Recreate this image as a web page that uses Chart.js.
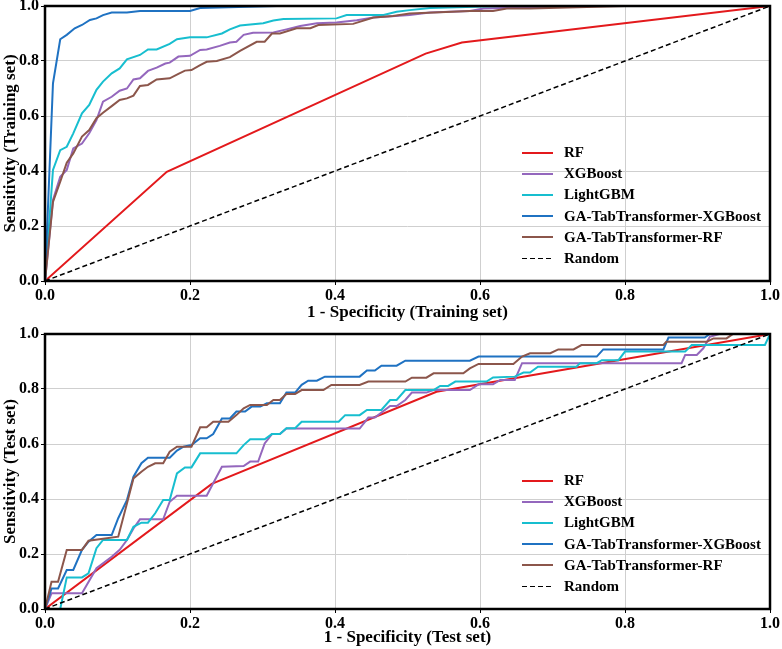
<!DOCTYPE html>
<html>
<head>
<meta charset="utf-8">
<script src="https://cdn.jsdelivr.net/npm/chart.js@4.4.0/dist/chart.umd.min.js"></script>
<style>
  body { margin: 0; background: #fff; }
  #wrap { position: relative; width: 782px; height: 649px; }
  canvas { position: absolute; left: 0; }
  .legend { position: absolute; font: bold 15px 'Liberation Serif', 'Times New Roman', serif; color: #000; }
  .legend .row { display: flex; align-items: center; height: 21.2px; white-space: nowrap; }
  .legend .sw { width: 31px; height: 2px; margin-right: 11px; }
</style>
</head>
<body>
<div id="wrap">
  <canvas id="trainRoc" width="782" height="324" style="top:0"></canvas>
  <canvas id="testRoc" width="782" height="325" style="top:324px"></canvas>
  <div id="trainLegend" class="legend" style="left:522px;top:142px"></div>
  <div id="testLegend" class="legend" style="left:522px;top:470px"></div>
</div>
<script>
var seriesNames = ["RF", "XGBoost", "LightGBM", "GA-TabTransformer-XGBoost", "GA-TabTransformer-RF", "Random"];
var seriesColors = ["#e3191c", "#9467bd", "#17becf", "#1f72c2", "#8c564b", "#000000"];
var tickLabels = ["0.0", "0.2", "0.4", "0.6", "0.8", "1.0"];

// training set
var trainFprRF = [0, 0.168, 0.525, 0.575, 1];
var trainTprRF = [0, 0.397, 0.827, 0.867, 1];

var trainFprXGB = [0, 0.011, 0.021, 0.030, 0.039, 0.051, 0.061, 0.071, 0.080, 0.092, 0.103, 0.113, 0.122, 0.131, 0.142, 0.154, 0.166, 0.172, 0.184, 0.200, 0.214, 0.223, 0.241, 0.255, 0.264, 0.274, 0.287, 0.315, 0.333, 0.352, 0.375, 0.402, 0.430, 0.453, 0.503, 0.531, 0.586, 0.605, 0.75, 1];
var trainTprXGB = [0, 0.295, 0.379, 0.404, 0.482, 0.500, 0.537, 0.585, 0.652, 0.670, 0.692, 0.700, 0.733, 0.737, 0.764, 0.776, 0.791, 0.794, 0.816, 0.819, 0.840, 0.842, 0.855, 0.867, 0.870, 0.895, 0.903, 0.904, 0.915, 0.927, 0.937, 0.940, 0.948, 0.958, 0.967, 0.976, 0.982, 0.991, 1.0, 1.0];

var trainFprLGBM = [0, 0.011, 0.021, 0.030, 0.039, 0.051, 0.061, 0.071, 0.080, 0.092, 0.103, 0.113, 0.131, 0.142, 0.154, 0.172, 0.182, 0.200, 0.223, 0.244, 0.255, 0.269, 0.301, 0.315, 0.329, 0.402, 0.416, 0.467, 0.485, 0.503, 0.531, 0.63, 1];
var trainTprLGBM = [0, 0.404, 0.476, 0.488, 0.537, 0.610, 0.640, 0.695, 0.725, 0.755, 0.773, 0.806, 0.822, 0.842, 0.842, 0.862, 0.879, 0.886, 0.886, 0.900, 0.915, 0.929, 0.937, 0.947, 0.953, 0.955, 0.967, 0.967, 0.979, 0.985, 0.993, 1.0, 1.0];

var trainFprGAXGB = [0, 0.011, 0.021, 0.030, 0.041, 0.051, 0.062, 0.071, 0.080, 0.092, 0.113, 0.131, 0.200, 0.214, 0.32, 1];
var trainTprGAXGB = [0, 0.719, 0.879, 0.895, 0.919, 0.931, 0.949, 0.955, 0.967, 0.976, 0.976, 0.982, 0.982, 0.993, 1.0, 1.0];

var trainFprGARF = [0, 0.011, 0.021, 0.030, 0.039, 0.051, 0.061, 0.071, 0.080, 0.092, 0.103, 0.113, 0.122, 0.131, 0.142, 0.154, 0.172, 0.184, 0.193, 0.202, 0.214, 0.223, 0.237, 0.255, 0.269, 0.292, 0.303, 0.313, 0.324, 0.347, 0.366, 0.377, 0.425, 0.453, 0.480, 0.503, 0.586, 0.618, 0.637, 0.669, 0.80, 1];
var trainTprGARF = [0, 0.288, 0.361, 0.430, 0.464, 0.525, 0.549, 0.592, 0.612, 0.636, 0.658, 0.664, 0.674, 0.709, 0.713, 0.733, 0.737, 0.753, 0.765, 0.767, 0.785, 0.797, 0.800, 0.814, 0.837, 0.870, 0.870, 0.900, 0.900, 0.919, 0.919, 0.931, 0.935, 0.958, 0.964, 0.973, 0.982, 0.982, 0.991, 0.991, 1.0, 1.0];

// test set
var testFprRF = [0, 0.23, 0.54, 1];
var testTprRF = [0, 0.455, 0.79, 1];

var testFprXGB = [0, 0.009, 0.051, 0.071, 0.092, 0.103, 0.113, 0.122, 0.131, 0.163, 0.172, 0.182, 0.223, 0.232, 0.244, 0.274, 0.283, 0.294, 0.303, 0.313, 0.324, 0.333, 0.434, 0.446, 0.455, 0.476, 0.485, 0.497, 0.506, 0.526, 0.536, 0.586, 0.598, 0.618, 0.628, 0.648, 0.658, 0.878, 0.883, 0.899, 0.908, 0.917, 0.93, 1];
var testTprXGB = [0, 0.057, 0.057, 0.148, 0.190, 0.215, 0.251, 0.293, 0.326, 0.326, 0.390, 0.412, 0.412, 0.457, 0.517, 0.520, 0.536, 0.536, 0.602, 0.636, 0.636, 0.656, 0.656, 0.696, 0.696, 0.738, 0.738, 0.760, 0.787, 0.787, 0.796, 0.796, 0.817, 0.817, 0.833, 0.833, 0.894, 0.894, 0.924, 0.924, 0.948, 0.990, 1.0, 1.0];

var testFprLGBM = [0, 0.021, 0.030, 0.051, 0.060, 0.071, 0.080, 0.113, 0.122, 0.133, 0.142, 0.152, 0.163, 0.172, 0.182, 0.193, 0.202, 0.214, 0.264, 0.274, 0.283, 0.303, 0.313, 0.324, 0.333, 0.345, 0.354, 0.405, 0.414, 0.434, 0.444, 0.464, 0.476, 0.485, 0.497, 0.536, 0.545, 0.556, 0.566, 0.609, 0.618, 0.648, 0.660, 0.669, 0.680, 0.733, 0.738, 0.761, 0.768, 0.791, 0.800, 0.883, 0.892, 0.993, 1];
var testTprLGBM = [0, 0, 0.115, 0.115, 0.130, 0.221, 0.251, 0.251, 0.299, 0.314, 0.314, 0.348, 0.396, 0.396, 0.493, 0.515, 0.515, 0.566, 0.566, 0.596, 0.617, 0.617, 0.636, 0.636, 0.657, 0.657, 0.681, 0.681, 0.705, 0.705, 0.724, 0.724, 0.760, 0.760, 0.796, 0.796, 0.811, 0.811, 0.827, 0.827, 0.842, 0.845, 0.860, 0.860, 0.881, 0.881, 0.894, 0.894, 0.905, 0.905, 0.936, 0.936, 0.960, 0.960, 1.0];

var testFprGAXGB = [0, 0.009, 0.018, 0.030, 0.039, 0.051, 0.060, 0.071, 0.092, 0.101, 0.113, 0.122, 0.133, 0.142, 0.172, 0.182, 0.191, 0.202, 0.214, 0.223, 0.232, 0.244, 0.255, 0.264, 0.276, 0.285, 0.297, 0.306, 0.324, 0.333, 0.345, 0.354, 0.363, 0.375, 0.386, 0.434, 0.444, 0.455, 0.464, 0.485, 0.497, 0.586, 0.598, 0.761, 0.770, 0.853, 0.860, 0.910, 0.917, 1];
var testTprGAXGB = [0, 0.075, 0.075, 0.142, 0.142, 0.215, 0.245, 0.269, 0.269, 0.330, 0.396, 0.481, 0.530, 0.550, 0.550, 0.576, 0.590, 0.596, 0.621, 0.621, 0.636, 0.693, 0.693, 0.718, 0.718, 0.736, 0.736, 0.748, 0.748, 0.787, 0.787, 0.815, 0.830, 0.830, 0.845, 0.845, 0.867, 0.867, 0.885, 0.885, 0.903, 0.903, 0.918, 0.918, 0.944, 0.944, 0.987, 0.987, 1.0, 1.0];

var testFprGARF = [0, 0.009, 0.018, 0.030, 0.051, 0.060, 0.101, 0.113, 0.122, 0.133, 0.142, 0.152, 0.163, 0.172, 0.182, 0.202, 0.214, 0.223, 0.232, 0.253, 0.264, 0.274, 0.283, 0.306, 0.315, 0.324, 0.333, 0.345, 0.354, 0.384, 0.395, 0.434, 0.446, 0.497, 0.506, 0.526, 0.536, 0.577, 0.586, 0.598, 0.646, 0.658, 0.669, 0.697, 0.708, 0.729, 0.740, 0.853, 0.857, 0.913, 0.922, 0.940, 0.949, 1];
var testTprGARF = [0, 0.099, 0.099, 0.215, 0.215, 0.248, 0.263, 0.384, 0.475, 0.499, 0.517, 0.530, 0.530, 0.572, 0.590, 0.590, 0.661, 0.661, 0.681, 0.681, 0.705, 0.730, 0.742, 0.742, 0.760, 0.760, 0.782, 0.782, 0.796, 0.796, 0.815, 0.815, 0.827, 0.827, 0.841, 0.841, 0.857, 0.857, 0.875, 0.891, 0.891, 0.918, 0.930, 0.930, 0.944, 0.944, 0.960, 0.960, 0.972, 0.972, 0.984, 0.984, 1.0, 1.0];

var randomFpr = [0, 1];
var randomTpr = [0, 1];

var fontFamily = "'Liberation Serif', 'Times New Roman', serif";
Chart.defaults.font.family = fontFamily;
Chart.defaults.font.weight = 'bold';
Chart.defaults.color = '#000';

function toPoints(xs, ys) {
  return xs.map(function(x, i) { return {x: x, y: ys[i]}; });
}

// black box round the plot area, like matplotlib spines
var framePlugin = {
  id: 'frame',
  afterDatasetsDraw: function(chart) {
    var a = chart.chartArea, ctx = chart.ctx;
    ctx.save();
    ctx.strokeStyle = '#000';
    ctx.lineWidth = 2.5;
    ctx.strokeRect(a.left, a.top, a.right - a.left, a.bottom - a.top);
    ctx.restore();
  }
};

function makeRoc(id, curves, xTitle, yTitle, padTop, xHeight) {
  var datasets = curves.map(function(c, i) {
    var isRandom = i === curves.length - 1;
    return {
      label: seriesNames[i],
      data: toPoints(c[0], c[1]),
      showLine: true,
      borderColor: seriesColors[i],
      backgroundColor: seriesColors[i],
      borderWidth: isRandom ? 1.5 : 2,
      borderDash: isRandom ? [5, 3] : [],
      pointRadius: 0,
      tension: 0,
      order: curves.length - i
    };
  });
  var grid = {color: '#cfcfcf', lineWidth: 1, tickColor: '#000', tickLength: 4};
  return new Chart(document.getElementById(id), {
    type: 'scatter',
    data: {datasets: datasets},
    options: {
      responsive: false,
      animation: false,
      layout: {padding: {top: padTop, right: 12, left: 0, bottom: 0}},
      plugins: {legend: {display: false}, tooltip: {enabled: false}},
      scales: {
        x: {
          type: 'linear', min: 0, max: 1,
          grid: grid, border: {display: false},
          ticks: {stepSize: 0.2, padding: 1, font: {size: 16, weight: 'bold'},
            callback: function(v, i) { return tickLabels[i]; }},
          title: {display: true, text: xTitle, font: {size: 17, weight: 'bold'}, padding: {top: 0, bottom: 1}},
          afterFit: function(s) { s.height = xHeight; s.paddingLeft = 0; s.paddingRight = 0; }
        },
        y: {
          type: 'linear', min: 0, max: 1,
          grid: grid, border: {display: false},
          ticks: {stepSize: 0.2, padding: 2, font: {size: 16, weight: 'bold'},
            callback: function(v, i) { return tickLabels[i]; }},
          title: {display: true, text: yTitle, font: {size: 17, weight: 'bold'}, padding: {top: 0, bottom: 0}},
          afterFit: function(s) { s.width = 45; s.paddingTop = 0; s.paddingBottom = 0; }
        }
      }
    },
    plugins: [framePlugin]
  });
}

makeRoc('trainRoc', [
  [trainFprRF, trainTprRF],
  [trainFprXGB, trainTprXGB],
  [trainFprLGBM, trainTprLGBM],
  [trainFprGAXGB, trainTprGAXGB],
  [trainFprGARF, trainTprGARF],
  [randomFpr, randomTpr]
], '1 - Specificity (Training set)', 'Sensitivity (Training set)', 6, 43);

makeRoc('testRoc', [
  [testFprRF, testTprRF],
  [testFprXGB, testTprXGB],
  [testFprLGBM, testTprLGBM],
  [testFprGAXGB, testTprGAXGB],
  [testFprGARF, testTprGARF],
  [randomFpr, randomTpr]
], '1 - Specificity (Test set)', 'Sensitivity (Test set)', 10, 40);

// legends sit inside the plot, lower right
function buildLegend(id) {
  var box = document.getElementById(id);
  seriesNames.forEach(function(name, i) {
    var row = document.createElement('div');
    row.className = 'row';
    var sw = document.createElement('span');
    sw.className = 'sw';
    if (name === 'Random') {
      sw.style.background = 'repeating-linear-gradient(to right, #000 0 5px, transparent 5px 8px)';
      sw.style.height = '1.5px';
    } else {
      sw.style.background = seriesColors[i];
    }
    var txt = document.createElement('span');
    txt.textContent = name;
    row.appendChild(sw);
    row.appendChild(txt);
    box.appendChild(row);
  });
}
buildLegend('trainLegend');
buildLegend('testLegend');
</script>
</body>
</html>
